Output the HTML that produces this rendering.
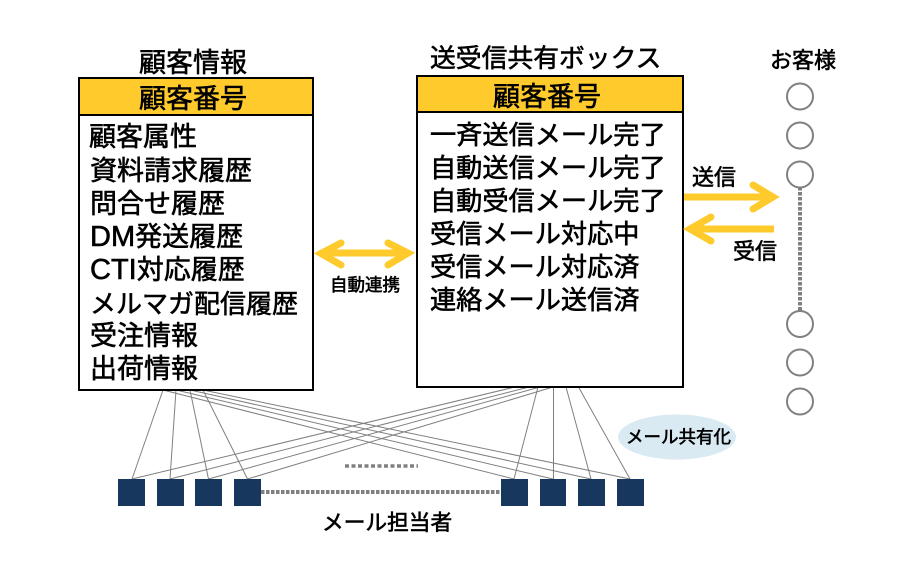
<!DOCTYPE html>
<html lang="ja"><head><meta charset="utf-8"><title>顧客情報と送受信共有ボックス</title>
<style>
html,body{margin:0;padding:0;background:#fff;width:912px;height:576px;overflow:hidden}
svg{display:block}
text{font-family:"Liberation Sans","Noto Sans CJK JP",sans-serif;fill:#000;stroke:#000;stroke-width:.6px}
</style></head><body>
<svg width="912" height="576" viewBox="0 0 912 576" xmlns="http://www.w3.org/2000/svg">
<rect width="912" height="576" fill="#fff"/>
<!-- connector lines -->
<g stroke="#808080" stroke-width="1" fill="none">
<path d="M163 390L132 479M176 390L170 479M190 390L208.500 479M203 390L247.500 479"/>
<path d="M163 390L514 479M176 390L553 479M190 390L591 479M203 390L630 479"/>
<path d="M538 387L514 479M553.500 387L553.500 479M566 387L591 479M578.500 387L630 479"/>
<path d="M515 387L132 479M529 387L170 479M540 387L208.500 479M553 387L247.500 479"/>
</g>
<!-- boxes -->
<rect x="79" y="78" width="234" height="312" fill="#fff" stroke="#000" stroke-width="2"/>
<rect x="79" y="78" width="234" height="37" fill="#ffca2c" stroke="#000" stroke-width="2"/>
<rect x="417" y="76" width="266" height="311" fill="#fff" stroke="#000" stroke-width="2"/>
<rect x="417" y="76" width="266" height="36" fill="#ffca2c" stroke="#000" stroke-width="2"/>
<!-- titles -->
<text x="139" y="72" font-size="27">顧客情報</text>
<text x="139" y="108" font-size="27">顧客番号</text>
<text x="430" y="67" font-size="25.800">送受信共有ボックス</text>
<text x="493" y="106" font-size="27">顧客番号</text>
<!-- left list -->
<g font-size="27">
<text x="89" y="146">顧客属性</text>
<text x="90" y="180">資料請求履歴</text>
<text x="90" y="213">問合せ履歴</text>
<text x="90" y="246"><tspan font-size="29">DM</tspan>発送履歴</text>
<text x="90" y="279"><tspan font-size="29">CTI</tspan>対応履歴</text>
<text x="90" y="313" font-size="26">メルマガ配信履歴</text>
<text x="90" y="345">受注情報</text>
<text x="90" y="378">出荷情報</text>
</g>
<!-- right list -->
<g font-size="26.200">
<text x="430" y="144">一斉送信メール完了</text>
<text x="430" y="177">自動送信メール完了</text>
<text x="430" y="210">自動受信メール完了</text>
<text x="430" y="243">受信メール対応中</text>
<text x="430" y="276">受信メール対応済</text>
<text x="430" y="309">連絡メール送信済</text>
</g>
<!-- arrows -->
<g stroke="#ffca2c" fill="none" stroke-linecap="round" stroke-linejoin="miter">
<path d="M322 253H408" stroke-width="7" stroke-linecap="butt"/>
<path d="M341 243L321 253.500L341 265" stroke-width="7"/>
<path d="M388 243L408 253L388 265" stroke-width="7"/>
<path d="M684 197H772" stroke-width="7" stroke-linecap="butt"/>
<path d="M753 185L773 197L753 209" stroke-width="7"/>
<path d="M690 229H774" stroke-width="7" stroke-linecap="butt"/>
<path d="M711 217L690 229L711 241" stroke-width="7"/>
</g>
<text x="330" y="291" font-size="17.500">自動連携</text>
<text x="692" y="185" font-size="22">送信</text>
<text x="733" y="259" font-size="22">受信</text>
<text x="770" y="68" font-size="22">お客様</text>
<!-- customer circles -->
<path d="M800 187V311" stroke="#808080" stroke-width="4" stroke-dasharray="3.500 1.500"/>
<g fill="#fff" stroke="#808080" stroke-width="2">
<circle cx="800" cy="96.500" r="13"/>
<circle cx="800" cy="135.500" r="13"/>
<circle cx="800" cy="174.500" r="13"/>
<circle cx="800" cy="324" r="13"/>
<circle cx="800" cy="362.500" r="13"/>
<circle cx="800" cy="401.500" r="13"/>
</g>
<!-- ellipse -->
<ellipse cx="677" cy="437" rx="59" ry="22.500" fill="#daeaf3"/>
<text x="626" y="443" font-size="17.500">メール共有化</text>
<!-- staff -->
<g fill="#17375e">
<rect x="118" y="479" width="27" height="27"/>
<rect x="157" y="479" width="27" height="27"/>
<rect x="195" y="479" width="27" height="27"/>
<rect x="234" y="479" width="27" height="27"/>
<rect x="501" y="479" width="27" height="27"/>
<rect x="540" y="479" width="26" height="27"/>
<rect x="578" y="479" width="27" height="27"/>
<rect x="617" y="479" width="27" height="27"/>
</g>
<path d="M261 492H501" stroke="#808080" stroke-width="4" stroke-dasharray="3.500 1.500"/>
<path d="M345 466H418" stroke="#808080" stroke-width="3.500" stroke-dasharray="4 2.500"/>
<text x="322" y="530" font-size="21.700">メール担当者</text>
</svg>
</body></html>
